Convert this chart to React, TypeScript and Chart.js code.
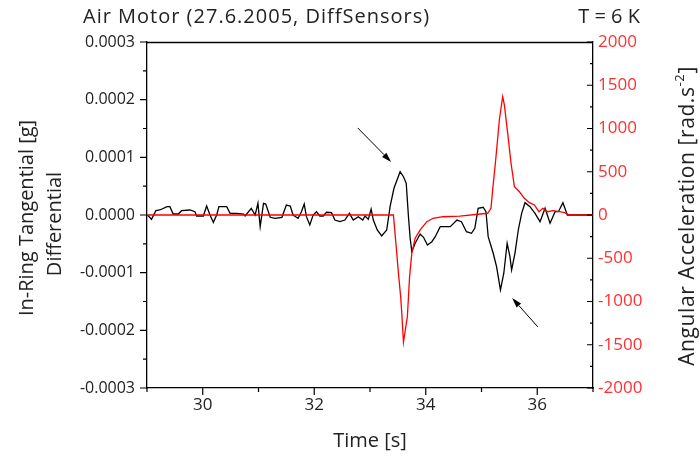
import React, { useEffect, useRef } from 'react';
import { Chart, registerables } from 'chart.js';
Chart.register(...registerables);

// ---- data ----
const diffTime = [29.01, 29.08, 29.16, 29.23, 29.36, 29.41, 29.47, 29.56, 29.62, 29.77, 29.86, 29.89, 30.01, 30.07, 30.13, 30.19, 30.25, 30.29, 30.43, 30.49, 30.61, 30.73, 30.76, 30.87, 30.94, 30.99, 31.03, 31.09, 31.13, 31.21, 31.30, 31.42, 31.50, 31.57, 31.62, 31.71, 31.77, 31.82, 31.86, 31.92, 31.98, 32.04, 32.10, 32.16, 32.22, 32.31, 32.37, 32.46, 32.55, 32.63, 32.70, 32.79, 32.87, 32.91, 32.97, 33.02, 33.06, 33.13, 33.21, 33.30, 33.36, 33.43, 33.54, 33.60, 33.65, 33.69, 33.72, 33.75, 33.81, 33.90, 33.96, 34.03, 34.11, 34.17, 34.26, 34.44, 34.56, 34.64, 34.73, 34.82, 34.88, 34.94, 35.03, 35.08, 35.12, 35.21, 35.27, 35.34, 35.40, 35.46, 35.51, 35.54, 35.60, 35.66, 35.72, 35.78, 35.87, 35.96, 36.05, 36.14, 36.23, 36.32, 36.38, 36.46, 36.54, 37.0];
const diffValue = [0, -7.5e-6, 7.5e-6, 8.7e-6, 1.44e-5, 1.44e-5, 1.7e-6, 1.7e-6, 7.5e-6, 8.7e-6, 5.7e-6, -1.7e-6, -1.7e-6, 1.56e-5, 0, -1.27e-5, 0, 1.44e-5, 1.44e-5, 2.9e-6, 2.9e-6, 1.7e-6, -1.7e-6, 1.16e-5, 0, 2.03e-5, -2.03e-5, 2.03e-5, 1.9e-5, -4e-6, -5.7e-6, -4e-6, 1.73e-5, 1.56e-5, 0, -5.7e-6, 5.7e-6, 1.9e-5, -2.9e-6, -1.73e-5, 0, 5.7e-6, -1.7e-6, -1.7e-6, 4.7e-6, 4e-6, -8.7e-6, -1.16e-5, -8.7e-6, 2.9e-6, -8.7e-6, -2.9e-6, -8.7e-6, -1.7e-6, -7.5e-6, 1.04e-5, -8.7e-6, -2.6e-5, -3.64e-5, -2.6e-5, 1.44e-5, 4.63e-5, 7.5e-5, 6.64e-5, 5.5e-5, -2.9e-6, -4.04e-5, -6.36e-5, -4.9e-5, -3.3e-5, -3.87e-5, -5.2e-5, -4.63e-5, -3.76e-5, -2.03e-5, -2.03e-5, -8.7e-6, -1.16e-5, -2.9e-5, -3.17e-5, -2.3e-5, 1.16e-5, 1.34e-5, 5.7e-6, -3.76e-5, -6.64e-5, -8.96e-5, -1.3e-4, -1.01e-4, -4.9e-5, -7.23e-5, -9.54e-5, -6.64e-5, -2.6e-5, 2.9e-6, 2.13e-5, 1.44e-5, 2.9e-6, -1.16e-5, 1.16e-5, -1.44e-5, 5.7e-6, 5.7e-6, 2.13e-5, 0, 0];

const accTime = [29.0, 33.42, 33.47, 33.51, 33.55, 33.57, 33.60, 33.67, 33.71, 33.75, 33.81, 33.90, 34.02, 34.13, 34.31, 34.61, 35.11, 35.17, 35.20, 35.26, 35.32, 35.38, 35.41, 35.47, 35.53, 35.59, 35.68, 35.77, 35.86, 35.95, 36.03, 36.10, 36.19, 36.28, 36.40, 36.49, 36.58, 37.0];
const accValue = [0, 0, -366, -674, -944, -1136, -1470, -1176, -713, -443, -269, -173, -77, -38, -20, -12, 20, 77, 289, 674, 1098, 1368, 1272, 944, 598, 327, 269, 193, 142, 116, 38, 77, 38, 50, 38, 27, 0, 0];

const timeTicks = [30, 32, 34, 36];
const timeMinor = [29, 31, 33, 35, 37];
const diffTicks = [-0.0003, -0.0002, -0.0001, 0, 0.0001, 0.0002, 0.0003];
const diffMinor = [-0.00025, -0.00015, -0.00005, 0.00005, 0.00015, 0.00025];
const accTicks = [-2000, -1500, -1000, -500, 0, 500, 1000, 1500, 2000];
const accMinor = [-1750, -1250, -750, -250, 250, 750, 1250, 1750];

// annotation arrows: [tailTime, tailValue, tipTime, tipValue] (left axis units)
const arrows = [
  [32.78, 0.000151, 33.38, 0.000092],
  [36.01, -0.000194, 35.55, -0.000144],
];

const FONT = '"Open Sans", "DejaVu Sans", sans-serif';
const RED = '#ff0000';
const RED_TEXT = '#ff3030';

const decor = {
  id: 'decor',
  afterDraw(chart: any) {
    const { ctx, chartArea: ca, scales } = chart;
    const x = scales.x, y = scales.y, y1 = scales.y1;
    ctx.save();
    ctx.strokeStyle = '#000';
    ctx.lineWidth = 1.3;
    ctx.beginPath();
    ctx.moveTo(ca.left, ca.top + 0.5);
    ctx.lineTo(ca.right, ca.top + 0.5);
    ctx.stroke();
    ctx.lineWidth = 1.2;
    ctx.beginPath();
    timeTicks.forEach(v => { const p = x.getPixelForValue(v); ctx.moveTo(p, ca.bottom); ctx.lineTo(p, ca.bottom + 7); });
    timeMinor.forEach(v => { const p = x.getPixelForValue(v); ctx.moveTo(p, ca.bottom); ctx.lineTo(p, ca.bottom + 4); });
    diffTicks.forEach(v => { const p = y.getPixelForValue(v); ctx.moveTo(ca.left, p); ctx.lineTo(ca.left - 7, p); });
    diffMinor.forEach(v => { const p = y.getPixelForValue(v); ctx.moveTo(ca.left, p); ctx.lineTo(ca.left - 4, p); });
    accTicks.forEach(v => { const p = y1.getPixelForValue(v); ctx.moveTo(ca.right, p); ctx.lineTo(ca.right - 6, p); });
    accMinor.forEach(v => { const p = y1.getPixelForValue(v); ctx.moveTo(ca.right, p); ctx.lineTo(ca.right - 3, p); });
    ctx.stroke();

    ctx.fillStyle = '#000';
    ctx.lineWidth = 1;
    arrows.forEach(([t0, v0, t1, v1]) => {
      const ax = x.getPixelForValue(t0), ay = y.getPixelForValue(v0);
      const bx = x.getPixelForValue(t1), by = y.getPixelForValue(v1);
      const ang = Math.atan2(by - ay, bx - ax);
      const L = 10, W = 3;
      const hx = bx - L * Math.cos(ang), hy = by - L * Math.sin(ang);
      ctx.beginPath();
      ctx.moveTo(ax, ay);
      ctx.lineTo(hx, hy);
      ctx.stroke();
      ctx.beginPath();
      ctx.moveTo(bx, by);
      ctx.lineTo(hx + W * Math.sin(ang), hy - W * Math.cos(ang));
      ctx.lineTo(hx - W * Math.sin(ang), hy + W * Math.cos(ang));
      ctx.closePath();
      ctx.fill();
    });

    ctx.fillStyle = '#222';
    ctx.textBaseline = 'middle';
    ctx.font = `20px ${FONT}`;
    ctx.textAlign = 'left';
    (ctx as any).letterSpacing = '1px';
    ctx.fillText('Air Motor (27.6.2005, DiffSensors)', 83, 17);
    (ctx as any).letterSpacing = '0px';
    ctx.textAlign = 'right';
    ctx.fillText('T = 6 K', 640, 17);
    ctx.font = `20px ${FONT}`;
    ctx.textAlign = 'center';
    ctx.fillText('Time [s]', 370, 441);

    ctx.save();
    ctx.translate(27, 218);
    ctx.rotate(-Math.PI / 2);
    ctx.fillText('In-Ring Tangential [g]', 0, 0);
    ctx.restore();
    ctx.save();
    ctx.translate(55, 224);
    ctx.rotate(-Math.PI / 2);
    ctx.fillText('Differential', 0, 0);
    ctx.restore();

    ctx.save();
    ctx.translate(688, 216);
    ctx.rotate(-Math.PI / 2);
    (ctx as any).letterSpacing = '0.6px';
    const main = 'Angular Acceleration [rad.s';
    const sup = '-2';
    const end = ']';
    ctx.font = `21px ${FONT}`;
    const wMain = ctx.measureText(main).width;
    const wEnd = ctx.measureText(end).width;
    ctx.font = `13px ${FONT}`;
    const wSup = ctx.measureText(sup).width;
    const total = wMain + wSup + wEnd;
    let cx = -total / 2;
    ctx.textAlign = 'left';
    ctx.font = `21px ${FONT}`;
    ctx.fillText(main, cx, 0);
    cx += wMain;
    ctx.font = `13px ${FONT}`;
    ctx.fillText(sup, cx, -8);
    cx += wSup;
    ctx.font = `21px ${FONT}`;
    ctx.fillText(end, cx, 0);
    ctx.restore();

    ctx.restore();
  },
};

export default function App() {
  const ref = useRef<HTMLCanvasElement | null>(null);
  useEffect(() => {
    if (!ref.current) return;
    const chart = new Chart(ref.current, {
      type: 'line',
      data: {
        datasets: [
          {
            label: 'Differential',
            data: diffTime.map((t, i) => ({ x: t, y: diffValue[i] })),
            borderColor: '#000',
            borderWidth: 1.3,
            pointRadius: 0,
            tension: 0,
            yAxisID: 'y',
            order: 2,
          },
          {
            label: 'Angular Acceleration',
            data: accTime.map((t, i) => ({ x: t, y: accValue[i] })),
            borderColor: RED,
            borderWidth: 1.3,
            pointRadius: 0,
            tension: 0,
            yAxisID: 'y1',
            order: 1,
          },
        ],
      },
      options: {
        responsive: false,
        animation: false,
        devicePixelRatio: 1,
        layout: { padding: { top: 42, left: 0, right: 0, bottom: 0 } },
        plugins: { legend: { display: false }, title: { display: false }, tooltip: { enabled: false } },
        scales: {
          x: {
            type: 'linear',
            min: 29,
            max: 37,
            afterBuildTicks: (s: any) => { s.ticks = timeTicks.map(v => ({ value: v })); },
            afterFit: (s: any) => { s.height = 70; },
            grid: { display: false, drawTicks: false },
            border: { display: true, color: '#000', width: 1.3 },
            ticks: { color: '#222', font: { family: FONT, size: 17 }, padding: 7, maxRotation: 0, autoSkip: false },
          },
          y: {
            type: 'linear',
            position: 'left',
            min: -0.0003,
            max: 0.0003,
            afterBuildTicks: (s: any) => { s.ticks = diffTicks.map(v => ({ value: v })); },
            afterFit: (s: any) => { s.width = 147; },
            grid: { display: false, drawTicks: false },
            border: { display: true, color: '#000', width: 1.3 },
            ticks: { color: '#222', font: { family: FONT, size: 16 }, padding: 12, autoSkip: false, callback: (v: any) => Number(v).toFixed(4) },
          },
          y1: {
            type: 'linear',
            position: 'right',
            min: -2000,
            max: 2000,
            afterBuildTicks: (s: any) => { s.ticks = accTicks.map(v => ({ value: v })); },
            afterFit: (s: any) => { s.width = 107; },
            grid: { display: false, drawTicks: false },
            border: { display: true, color: '#000', width: 1.3 },
            ticks: { color: RED_TEXT, font: { family: FONT, size: 17 }, padding: 5, autoSkip: false, callback: (v: any) => String(v) },
          },
        },
      },
      plugins: [decor],
    });
    return () => chart.destroy();
  }, []);
  return (
    <div style={{ position: 'fixed', left: 0, top: 0, width: 700, height: 458, background: '#fff' }}>
      <canvas ref={ref} width={700} height={458} style={{ width: 700, height: 458 }} />
    </div>
  );
}
